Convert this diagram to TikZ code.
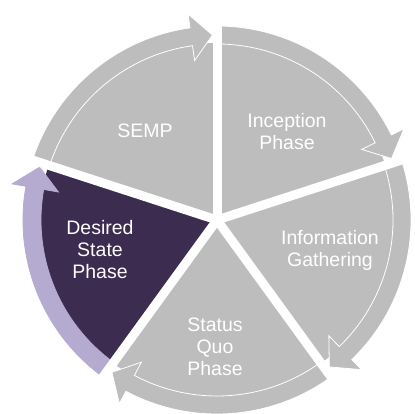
\documentclass[tikz,border=0pt]{standalone}
\usepackage{fontspec}
\setmainfont{Liberation Sans}
\usetikzlibrary{
	calc,
	positioning,
}
\definecolor{phasegray}{RGB}{189,189,189}
\definecolor{phasepurple}{RGB}{60,44,80}
\definecolor{phaselilac}{RGB}{181,170,207}
\tikzset{
	phasetext/.style={text=white, align=center, font=\fontsize{19.5}{22}\selectfont},
}

\begin{document}
\begin{tikzpicture}[x=1pt, y=1pt]
\useasboundingbox (0,0) rectangle (415,414);
\coordinate (c) at (217,194);
\foreach \e/\wedgec/\bandc/\rim in {
		90/phasegray/phasegray/white,
		18/phasegray/phasegray/white,
		-54/phasegray/phasegray/white,
		-126/phasegray/phasegray/white,
		162/phasepurple/phaselilac/phaselilac}{
	\pgfmathsetmacro{\s}{\e+72}
	\pgfmathsetmacro{\t}{\e+1.4}
	\pgfmathsetmacro{\h}{\e+8}
	\fill[\wedgec] (c) -- ($(c)+(\s:177pt)$) arc[start angle=\s, end angle=\e, radius=177pt] -- cycle;
	\filldraw[fill=\bandc, draw=\rim, line width=0.8pt]
		($(c)+(\s:176pt)$) -- ($(c)+(\s:194pt)$) arc[start angle=\s, end angle=\h, radius=194pt]
		-- ($(c)+(\h:208pt)$) -- ($(c)+(\t:185pt)$) -- ($(c)+(\h:161pt)$)
		-- ($(c)+(\h:176pt)$) arc[start angle=\h, end angle=\s, radius=176pt] -- cycle;
}
% gaps between the phases
\foreach \e in {90,18,-54,-126,162}
	\draw[white, line width=9pt] (c) -- ($(c)+(\e:215pt)$);
\node[phasetext] (semp) at (145,283) {SEMP};
\node[phasetext] (inception) at (287,282) {Inception\\Phase};
\node[phasetext] (info) at (330,164) {Information\\Gathering};
\node[phasetext] (statusquo) at (215,67) {Status\\Quo\\Phase};
\node[phasetext] (desired) at (100,164) {Desired\\State\\Phase};
\end{tikzpicture}
\end{document}
